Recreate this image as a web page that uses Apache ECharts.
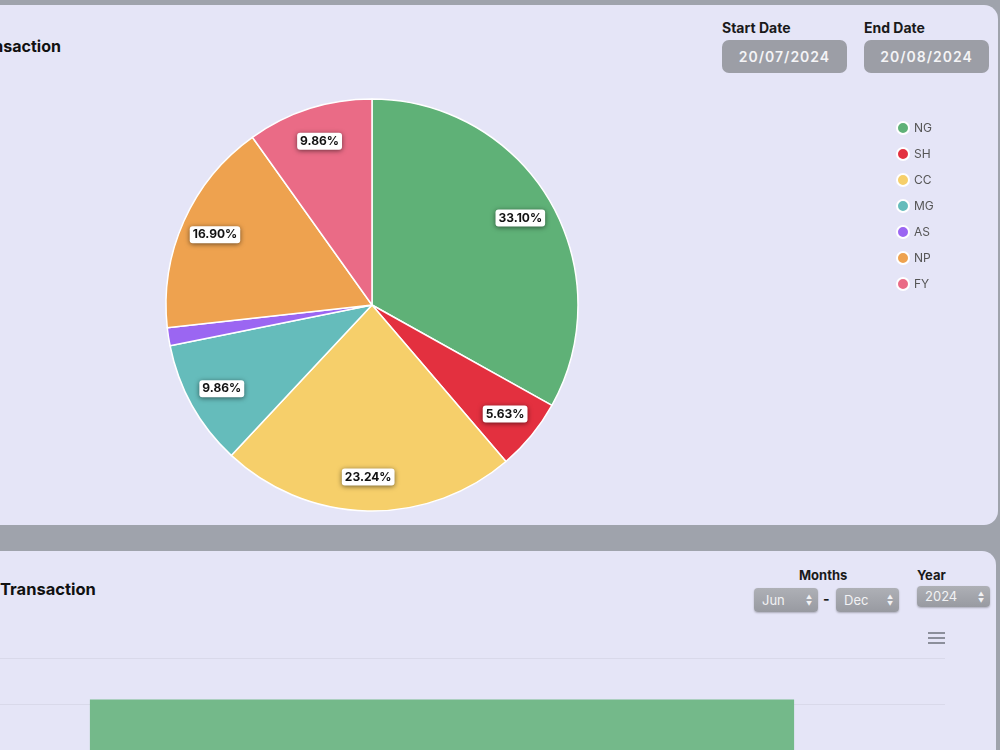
<!DOCTYPE html>
<html>
<head>
<meta charset="utf-8">
<script src="https://cdn.jsdelivr.net/npm/echarts@6/dist/echarts.min.js"></script>
<style>
  html, body { margin: 0; padding: 0; width: 1000px; height: 750px; overflow: hidden; background: #9fa3ac; font-family: Inter, "Noto Sans", sans-serif; }
  .panel { position: absolute; background: #e5e5f7; border-radius: 14px; }
  .title { position: absolute; font-size: 16px; font-weight: 700; color: #111; white-space: nowrap; }
  .lbl { position: absolute; font-size: 14px; font-weight: 700; color: #1a1a1a; white-space: nowrap; }
  .date { position: absolute; height: 33px; width: 125px; line-height: 33px; background: #9c9ea6; border-radius: 7px; color: #f4f4f6; font-size: 14px; font-weight: 600; letter-spacing: 1px; text-align: center; }
  .sel { position: absolute; height: 24px; line-height: 24px; background: linear-gradient(#aeb0b6, #989aa1); border-radius: 4px; color: #f2f2f4; font-size: 13px; padding-left: 8px; box-sizing: border-box; box-shadow: 0 1px 2px rgba(0,0,0,0.25); }
  .sel .arr { position: absolute; right: 6px; top: 5px; font-size: 6px; line-height: 7px; }
  .burger { position: absolute; left: 928px; top: 632px; width: 17px; }
  .burger div { height: 2px; background: #8c8f9b; margin-bottom: 3px; }
  #pie { position: absolute; left: 0; top: 5px; width: 1000px; height: 520px; }
  #bar { position: absolute; left: -100px; top: 600px; width: 1100px; height: 400px; }
</style>
</head>
<body>
<div class="panel" style="left:-20px; top:5px; width:1018px; height:520px;"></div>
<div class="panel" style="left:-20px; top:551px; width:1016px; height:230px;"></div>

<div class="title" style="left:-32px; top:36px;">Transaction</div>
<div class="lbl" style="left:722px; top:19px;">Start Date</div>
<div class="lbl" style="left:864px; top:19px;">End Date</div>
<div class="date" style="left:722px; top:40px;">20/07/2024</div>
<div class="date" style="left:864px; top:40px;">20/08/2024</div>

<div class="title" style="left:0px; top:579px; font-size:16.5px;">Transaction</div>
<div class="lbl" style="left:799px; top:567px; font-size:13px;">Months</div>
<div class="lbl" style="left:917px; top:567px; font-size:13px;">Year</div>
<div class="sel" style="left:754px; top:588px; width:64px;">Jun<span class="arr">▲<br>▼</span></div>
<div class="lbl" style="left:823px; top:590px;">-</div>
<div class="sel" style="left:836px; top:588px; width:63px;">Dec<span class="arr">▲<br>▼</span></div>
<div class="sel" style="left:917px; top:586px; width:73px; height:21px; line-height:21px;">2024<span class="arr" style="top:4px;">▲<br>▼</span></div>
<div class="burger"><div></div><div></div><div></div></div>

<div id="pie"></div>
<div id="bar"></div>

<script>
// pie: transaction counts per type (share of 142)
const categories = ['NG', 'SH', 'CC', 'MG', 'AS', 'NP', 'FY'];
const counts = [47, 8, 33, 14, 2, 24, 14];
const palette = ['#5fb177', '#e3303f', '#f6cf6a', '#65bcbb', '#9b66f2', '#eea24f', '#ea6b86'];

// bar: monthly transactions
const barMonths = ['Aug'];
const barValues = [51];
const barTicks = [0, 10, 20, 30, 40, 50, 60];

const pieData = categories.map((name, i) => ({ name, value: counts[i] }));

const labelStyle = {
  show: true,
  position: 'inside',
  formatter: (p) => p.percent.toFixed(2) + '%',
  color: '#111',
  fontSize: 12,
  fontWeight: 'bold',
  fontFamily: 'Inter',
  backgroundColor: '#fff',
  borderRadius: 3,
  padding: [3, 3, 2, 3],
  shadowBlur: 5,
  shadowColor: 'rgba(0,0,0,0.55)',
  shadowOffsetY: 1,
};

echarts.init(document.getElementById('pie')).setOption({
  color: palette,
  animation: false,
  legend: {
    orient: 'vertical',
    left: 891,
    top: 111,
    icon: 'circle',
    itemWidth: 12,
    itemHeight: 12,
    itemGap: 12,
    itemTextGap: 3,
    textStyle: { color: '#555', fontSize: 12, fontFamily: 'Inter' },
    data: categories,
  },
  series: [
    {
      type: 'pie',
      center: [372, 300],
      radius: [0, 206],
      startAngle: 90,
      label: { show: false },
      labelLine: { show: false },
      itemStyle: { borderColor: '#fff', borderWidth: 1.5 },
      data: pieData,
    },
    {
      // transparent ring used only to place the percent labels
      type: 'pie',
      center: [372, 300],
      radius: [132, 206],
      startAngle: 90,
      silent: true,
      minShowLabelAngle: 10,
      itemStyle: { color: 'transparent', borderWidth: 0 },
      label: labelStyle,
      labelLine: { show: false },
      data: pieData,
    },
  ],
});

echarts.init(document.getElementById('bar')).setOption({
  animation: false,
  grid: { left: 39, right: 55, top: 58, bottom: 66 },
  xAxis: {
    type: 'category',
    data: barMonths,
    axisLine: { show: false },
    axisTick: { show: false },
  },
  yAxis: {
    type: 'value',
    min: barTicks[0],
    max: barTicks[barTicks.length - 1],
    interval: barTicks[1] - barTicks[0],
    axisLabel: { show: false },
    splitLine: { lineStyle: { color: '#d9d9ea', width: 1 } },
  },
  series: [
    {
      type: 'bar',
      data: barValues,
      barWidth: '70%',
      itemStyle: { color: '#74b98a' },
    },
  ],
});
</script>
</body>
</html>
